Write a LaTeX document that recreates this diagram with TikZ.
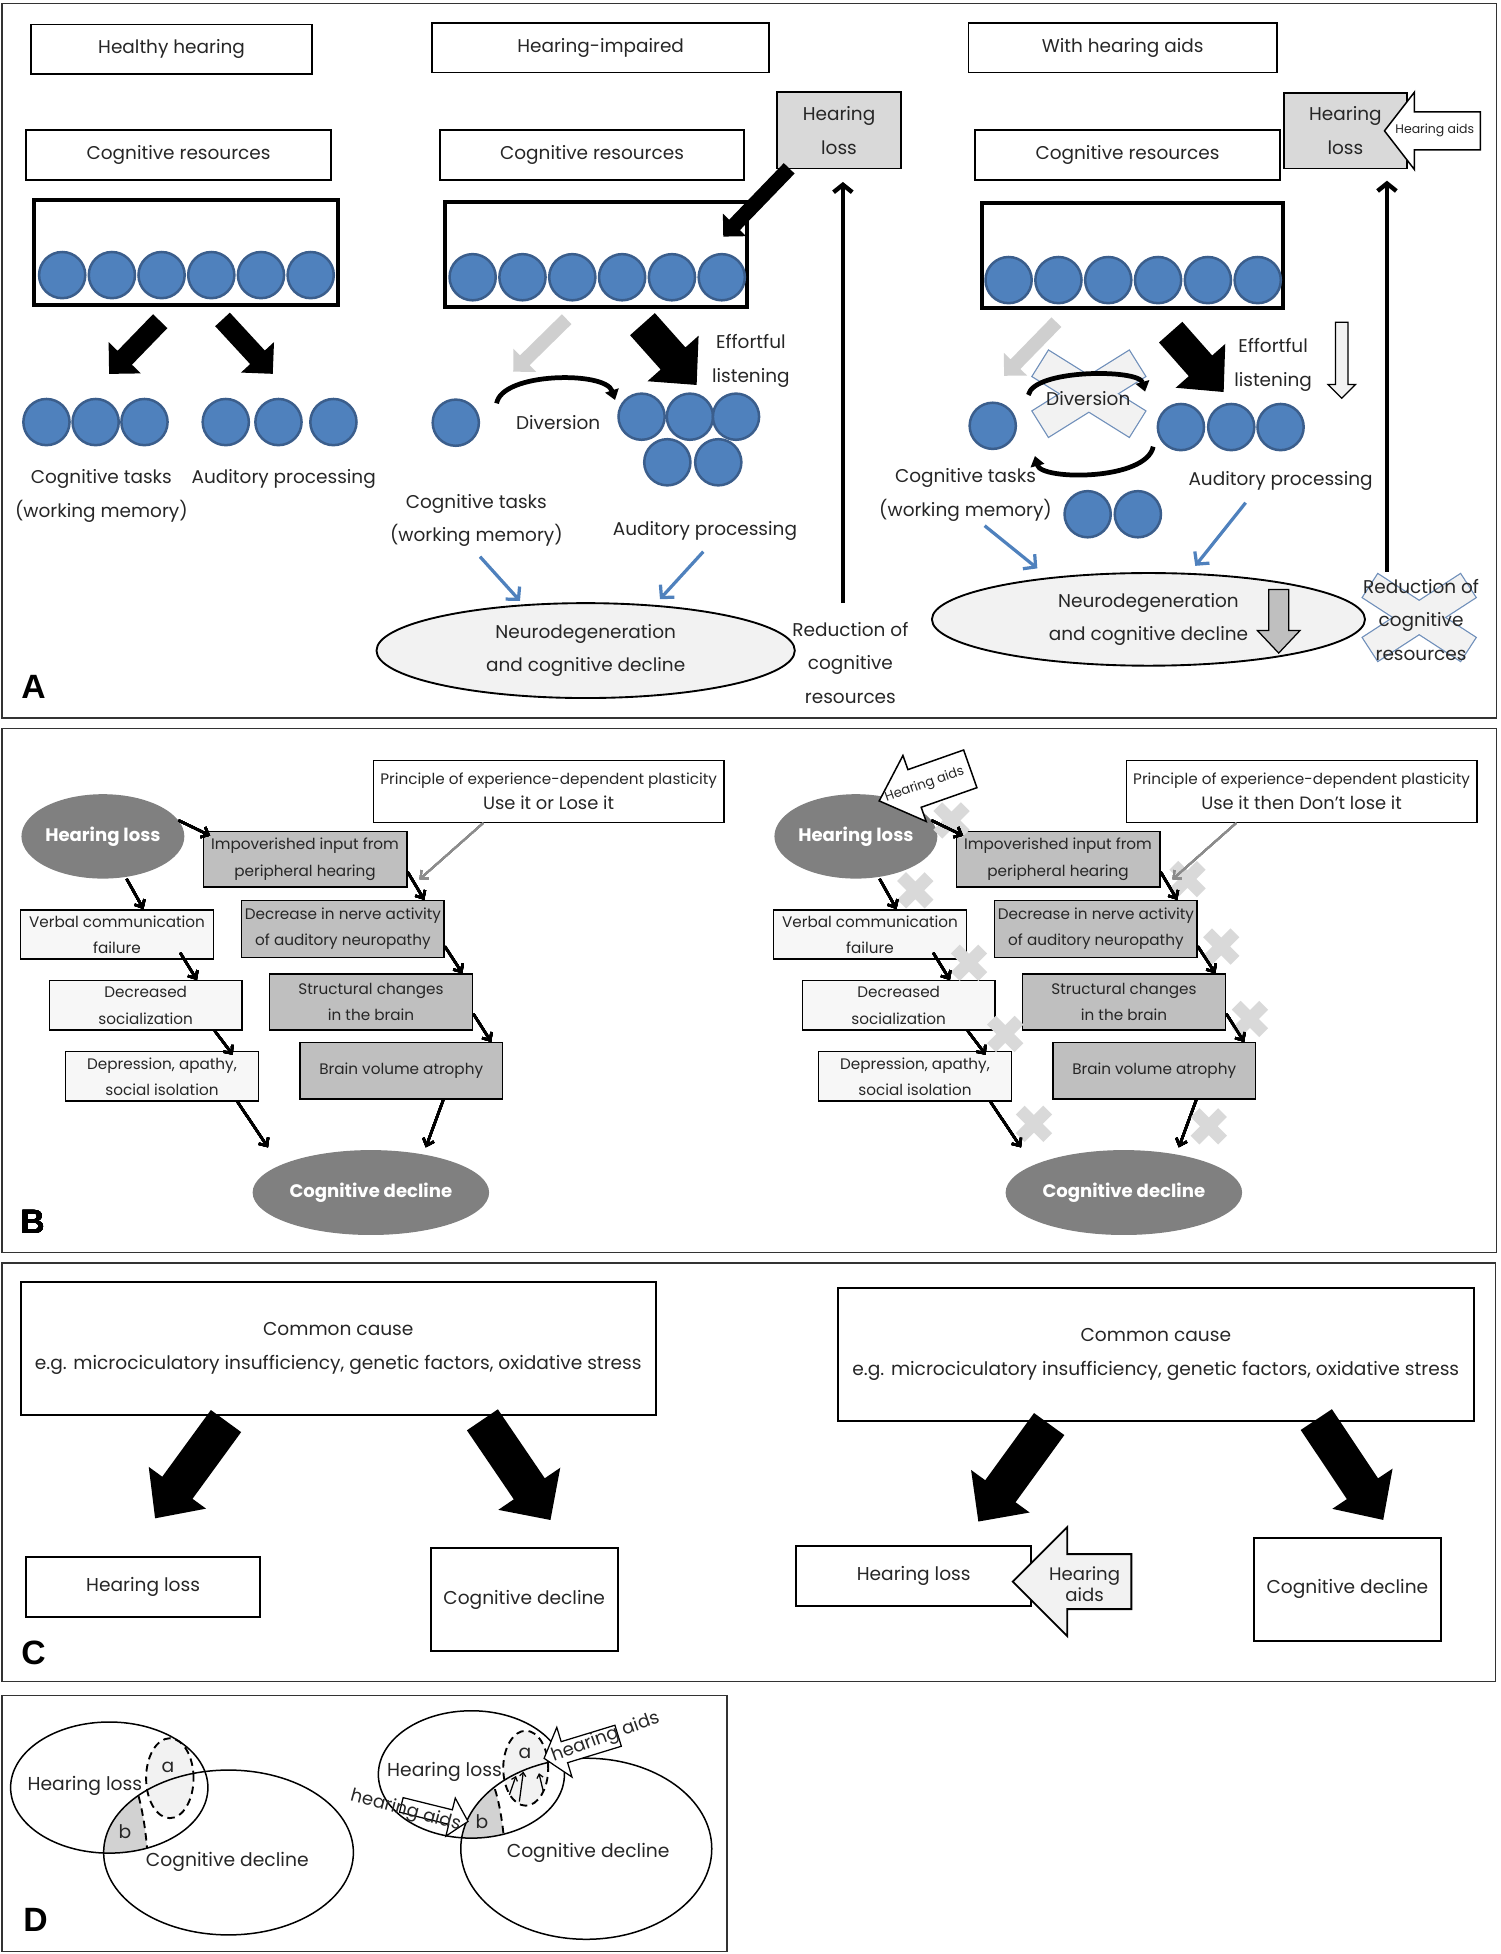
\documentclass[tikz,border=0pt]{standalone}
\usepackage{xcolor}
\usepackage{fontspec}
\setmainfont{Poppins}
\newfontfamily\panelfont{Liberation Sans}
\usepackage{tikz}
\usetikzlibrary{shapes.geometric, arrows.meta}

\definecolor{resblue}{HTML}{4F81BD}
\definecolor{resedge}{HTML}{3B5E8C}
\definecolor{boxgray}{HTML}{D9D9D9}
\definecolor{lightfill}{HTML}{F2F2F2}
\definecolor{lifefill}{HTML}{F7F7F7}
\definecolor{darkfill}{HTML}{808080}
\definecolor{midgray}{HTML}{BFBFBF}
\definecolor{arrgray}{HTML}{CFCFCF}
\definecolor{xedgecol}{HTML}{6F8FBA}
\definecolor{xmarkcol}{HTML}{D9D9D9}
\definecolor{bfill}{HTML}{D2D2D2}

\newcommand{\blockarrow}[7]{%
  \path[#1, shift={#2}, rotate=#3] (0, -#5) -- ({#4-#7}, -#5) -- ({#4-#7}, -#6) -- (#4, 0) -- ({#4-#7}, #6) -- ({#4-#7}, #5) -- (0, #5) -- cycle;}
\newcommand{\crossbars}[4]{%
  \foreach \ang in {#2, -#2} \draw[draw=xedgecol, line width=2pt, shift={#1}, rotate=\ang] (-#3, -#4) rectangle (#3, #4);
  \foreach \ang in {#2, -#2} \fill[lightfill, shift={#1}, rotate=\ang] (-#3, -#4) rectangle (#3, #4);}
\newcommand{\nomark}[1]{\draw[draw=xmarkcol, line width=10pt, shift={#1}] (-11, -11) -- (11, 11) (-11, 11) -- (11, -11);}

\tikzset{
  panel/.style={draw=black!80, line width=1.2pt},
  lbl/.style={inner sep=0pt, align=center, text=black!85, font=\fontsize{14.8}{27}\selectfont},
  tbox/.style={draw, line width=1.3pt, inner sep=0pt, align=center, text=black!85, font=\fontsize{14.8}{27}\selectfont},
  hlbox/.style={tbox, fill=boxgray},
  pot/.style={draw, line width=3pt, inner sep=0pt},
  res/.style={circle, fill=resblue, draw=resedge, line width=2pt, minimum size=37pt, inner sep=0pt},
  neuro/.style={ellipse, draw, fill=lightfill, line width=1.5pt, inner sep=0pt, align=center, text=black!85, font=\fontsize{14.8}{27}\selectfont},
  bluearr/.style={draw=resblue, line width=2.6pt, -{Straight Barb[length=7pt, width=15pt]}},
  uparr/.style={line width=3.5pt, -{Straight Barb[length=6pt, width=15pt]}},
  divarc/.style={line width=3.8pt, -{Triangle[length=8pt, width=11pt]}},
  letter/.style={inner sep=0pt, font=\fontsize{27}{27}\panelfont\bfseries},
  bnode/.style={draw, line width=1.2pt, inner sep=0pt, align=center, text=black!85, font=\fontsize{12.2}{21}\selectfont},
  pathbox/.style={bnode, fill=midgray},
  lifebox/.style={bnode, fill=lifefill},
  darkell/.style={ellipse, fill=darkfill, text=white, inner sep=0pt, font=\fontsize{14.5}{18}\selectfont\bfseries},
  flow/.style={line width=2pt, -{Straight Barb[length=5pt, width=9pt]}},
  cbox/.style={draw, line width=1.6pt, inner sep=0pt, align=center, text=black!85, font=\fontsize{14.9}{27.7}\selectfont},
  venn/.style={line width=1.2pt},
  vdash/.style={line width=1.5pt, dash pattern=on 6pt off 4pt},
  vlbl/.style={inner sep=0pt, text=black!85, font=\fontsize{15}{18}\selectfont},
  tiny/.style={line width=1pt, -{Straight Barb[length=3pt, width=5pt]}}
}

\begin{document}
\begin{tikzpicture}[x=1pt, y=-1pt]
\useasboundingbox (0, 0) rectangle (1202, 1564.8);

% A
\draw[panel] (1.5, 3) rectangle (1198.5, 575);
\node[tbox, minimum width=225pt, minimum height=40pt] at (137.4, 39.5) (hh) {Healthy hearing};
\node[tbox, minimum width=270pt, minimum height=39.6pt] at (481, 38.2) (hi) {Hearing-impaired};
\node[tbox, minimum width=247pt, minimum height=39.6pt] at (899, 38.2) (ha) {With hearing aids};
\node[tbox, minimum width=244pt, minimum height=40pt] at (143, 124) (crL) {Cognitive resources};
\node[tbox, minimum width=243.4pt, minimum height=40pt] at (474.1, 124) (crM) {Cognitive resources};
\node[tbox, minimum width=244pt, minimum height=40pt] at (902.9, 124) (crR) {Cognitive resources};
\node[pot, minimum width=243pt, minimum height=84pt] at (149, 202) (potL) {};
\node[pot, minimum width=242pt, minimum height=84pt] at (477.5, 203.6) (potM) {};
\node[pot, minimum width=241pt, minimum height=84pt] at (906.9, 204.5) (potR) {};
\foreach \i in {0,...,5} {
  \node[res] at ({49.8+39.8*\i}, 220.3) (cl\i) {};
  \node[res] at ({378.5+39.9*\i}, 222) (cm\i) {};
  \node[res] at ({807.7+39.9*\i}, 224.3) (cr\i) {};
}
\node[hlbox, minimum width=99pt, minimum height=61.5pt] at (671.9, 104.3) (hlM) {Hearing\\loss};
\node[hlbox, minimum width=98.7pt, minimum height=60.7pt] at (1077.4, 104.7) (hlR) {Hearing\\loss};

\foreach \x [count=\n] in {37.2, 76.6, 115.7} \node[res] at (\x, 338) (tl\n) {};
\foreach \x [count=\n] in {180.8, 223, 267} \node[res] at (\x, 338) (al\n) {};
\node[lbl] at (81.2, 397) (ctL) {Cognitive tasks\\(working memory)};
\node[lbl] at (227.2, 383.6) (apL) {Auditory processing};
\blockarrow{fill=black}{(128.3, 257.2)}{-134.1}{58.8}{8}{18}{18}
\blockarrow{fill=black}{(178.2, 255.8)}{-47.3}{59.3}{8}{18}{18}

\blockarrow{fill=black}{(632, 134.8)}{-134}{76}{6}{13}{13}
\blockarrow{fill=arrgray}{(453.8, 255.6)}{-135.5}{60}{5.5}{13}{13}
\blockarrow{fill=black}{(514.5, 259.6)}{-48.3}{65.2}{13.3}{27.4}{28.4}
\node[res] at (365, 338.5) (oneM) {};
\foreach \x/\y [count=\n] in {513.8/333.7, 552.5/333.7, 589.4/333.7, 534.4/370.2, 575.2/370.2} \node[res] at (\x, \y) (auM\n) {};
\node[lbl] at (601.3, 289) (efM) {Effortful\\listening};
\node[lbl] at (447, 338.5) (dvM) {Diversion};
\coordinate (dvs) at (397.7, 323);
\coordinate (dve) at (492.5, 320.3);
\draw[divarc] (dvs) .. controls (402, 298) and (485, 297) .. (dve);
\node[lbl] at (381.5, 416.8) (ctM) {Cognitive tasks\\(working memory)};
\node[lbl] at (564.5, 425.2) (apM) {Auditory processing};
\node[neuro, minimum width=335pt, minimum height=76pt] at (469, 521) (neuM) {Neurodegeneration\\and cognitive decline};
\coordinate (bt1) at (384.4, 445.8);
\coordinate (bt2) at (563.2, 441.8);
\draw[bluearr] (bt1) -- ([xshift=-52.6pt, yshift=1pt]neuM.north);
\draw[bluearr] (bt2) -- ([xshift=59.5pt, yshift=2.5pt]neuM.north);
\coordinate (rtM) at (675, 483);
\draw[uparr, shorten >=10pt] (rtM) -- (rtM |- hlM.south);
\node[lbl] at (681, 530.8) (rdM) {Reduction of\\cognitive\\resources};

\blockarrow{fill=arrgray}{(846, 258)}{-134.3}{60}{5.5}{13}{13}
\blockarrow{fill=black}{(937.5, 266)}{-48.5}{64}{12.5}{26.5}{28}
\blockarrow{fill=lightfill, draw, line width=1pt}{(1074.5, 258)}{-90}{61}{5}{11}{11}
\node[lbl] at (1019.5, 292) (efR) {Effortful\\listening};
\node[res] at (795, 341) (oneR) {};
\foreach \x/\y [count=\n] in {945.7/342, 986/342, 1025.5/342, 871/411.8, 911.2/411.8} \node[res] at (\x, \y) (auR\n) {};
\crossbars{(872, 315.3)}{32}{45.5}{12}
\node[lbl] at (871.5, 319) (dvR) {Diversion};
\coordinate (das) at (823.5, 316.3);
\coordinate (dae) at (917, 313.6);
\draw[divarc] (das) .. controls (828, 295.4) and (912, 295.4) .. (dae);
\coordinate (dbs) at (923.5, 357.7);
\coordinate (dbe) at (828.8, 365.2);
\draw[divarc] (dbs) .. controls (918, 384.9) and (834, 384.9) .. (dbe);
\node[lbl] at (773.2, 396.6) (ctR) {Cognitive tasks\\(working memory)};
\node[lbl] at (1025.5, 385) (apR) {Auditory processing};
\node[neuro, minimum width=346.8pt, minimum height=74.2pt] at (919.7, 496) (neuR) {Neurodegeneration\\and cognitive decline};
\blockarrow{fill=midgray, draw, line width=1pt}{(1024, 472)}{-90}{51}{8}{17}{18}
\coordinate (bt3) at (788.5, 421);
\coordinate (bt4) at (997.5, 402.6);
\draw[bluearr] (bt3) -- ([xshift=-89pt, yshift=3pt]neuR.north);
\draw[bluearr] (bt4) -- ([xshift=37.5pt, yshift=5pt]neuR.north);
\coordinate (rtR) at (1110.7, 457.7);
\draw[uparr, shorten >=9pt] (rtR) -- (rtR |- hlR.south);
\crossbars{(1136.5, 494.5)}{33}{46.5}{11}
\node[lbl] at (1138, 496.3) (rdR) {Reduction of\\cognitive\\resources};
\blockarrow{fill=white, draw, line width=1.2pt}{(1185.5, 104.8)}{180}{76.8}{15.3}{31}{24}
\node[inner sep=0pt, text=black!85, font=\fontsize{10}{12}\selectfont] at (1149, 104.8) (haA) {Hearing aids};
\node[letter] at (26.8, 549.9) (labA) {A};

% B
\draw[panel] (1.5, 583.3) rectangle (1198.5, 1003);
\foreach \ox/\s/\motto in {0/L/{Use it or Lose it}, 603/R/{Use it then Don't lose it}} {
  \begin{scope}[xshift=\ox pt]
    \node[darkell, minimum width=130.4pt, minimum height=67.6pt] at (82.4, 669.8) (hl\s) {Hearing loss};
    \node[bnode, line width=1pt, minimum width=280.9pt, minimum height=49.5pt, font=\fontsize{12.2}{20}\selectfont] at (439.3, 633.8) (pr\s) {Principle of experience-dependent plasticity\\{\fontsize{14.3}{20}\selectfont\motto}};
    \node[pathbox, minimum width=162.9pt, minimum height=44.6pt] at (244.3, 688.1) (imp\s) {Impoverished input from\\peripheral hearing};
    \node[pathbox, minimum width=162.1pt, minimum height=45.4pt] at (274.6, 743.9) (dec\s) {Decrease in nerve activity\\of auditory neuropathy};
    \node[pathbox, minimum width=162.8pt, minimum height=44.8pt] at (297.1, 802.4) (str\s) {Structural changes\\in the brain};
    \node[pathbox, minimum width=162.1pt, minimum height=45.1pt] at (321.3, 857.5) (brn\s) {Brain volume atrophy};
    \node[lifebox, minimum width=154.4pt, minimum height=39.5pt] at (93.7, 748.3) (vrb\s) {Verbal communication\\failure};
    \node[lifebox, minimum width=154.4pt, minimum height=39.5pt] at (116.7, 805.1) (dsc\s) {Decreased\\socialization};
    \node[lifebox, minimum width=154.4pt, minimum height=39.5pt] at (129.7, 862) (dep\s) {Depression, apathy,\\social isolation};
    \node[darkell, minimum width=189.4pt, minimum height=68pt] at (297, 955) (cd\s) {Cognitive decline};
  \end{scope}
}
\blockarrow{fill=white, draw, line width=1.2pt}{(777, 615.7)}{199.4}{77.3}{16}{28}{30}
\node[inner sep=0pt, rotate=19.4, text=black!85, font=\fontsize{10.5}{12}\selectfont] at (740.5, 628.5) (haB) {Hearing aids};
\foreach \p in {(762, 657), (733, 713), (951, 704), (978, 758), (776, 771), (1001, 816), (805, 828), (828, 900), (968, 902)} \nomark{\p}
\foreach \s in {L, R} {
  \draw[flow] (hl\s.12) -- ([xshift=6pt, yshift=-4pt]imp\s.north west);
  \draw[flow] ([yshift=-10pt]imp\s.east) -- ([xshift=-16.5pt]dec\s.north east);
  \draw[flow] ([yshift=-14pt]dec\s.east) -- ([xshift=-8.8pt]str\s.north east);
  \draw[flow] ([yshift=-9.5pt]str\s.east) -- ([xshift=-9.6pt]brn\s.north east);
  \draw[flow] ([xshift=19pt]hl\s.south) -- ([xshift=21.2pt]vrb\s.north);
  \draw[flow] ([xshift=-27.2pt, yshift=5.7pt]vrb\s.south east) -- ([xshift=-36.8pt]dsc\s.north east);
  \draw[flow] ([xshift=-22.6pt]dsc\s.south east) -- ([xshift=-21.1pt, yshift=-3pt]dep\s.north east);
  \draw[flow] ([xshift=-17.3pt]dep\s.south east) -- ([xshift=-82.4pt, yshift=2pt]cd\s.north);
  \draw[flow] ([xshift=-47.9pt]brn\s.south east) -- ([xshift=44pt, yshift=2pt]cd\s.north);
  \draw[flow, draw=black!45, line width=1.5pt] ([xshift=-52.3pt]pr\s.south) -- ([xshift=9.6pt, yshift=6.8pt]imp\s.south east);
}
\node[letter] at (26, 978.2) (labB) {B};

% C
\draw[panel] (1.5, 1011.6) rectangle (1197.5, 1346.6);
\node[cbox, minimum width=508.2pt, minimum height=106pt] at (270.9, 1080) (ccL) {Common cause\\e.g. microciculatory insufficiency, genetic factors, oxidative stress};
\node[cbox, minimum width=509.8pt, minimum height=105.9pt] at (925.6, 1084.7) (ccR) {Common cause\\e.g. microciculatory insufficiency, genetic factors, oxidative stress};
\node[cbox, minimum width=187.8pt, minimum height=48.5pt] at (114.6, 1270.8) (hlCL) {Hearing loss};
\node[cbox, minimum width=149.5pt, minimum height=81.9pt] at (419.8, 1280.9) (cdCL) {Cognitive decline};
\node[cbox, minimum width=187.8pt, minimum height=48.3pt] at (731.7, 1261.9) (hlCR) {Hearing loss};
\node[cbox, minimum width=149.5pt, minimum height=82.5pt] at (1079, 1272.6) (cdCR) {Cognitive decline};
\blockarrow{fill=black}{(181, 1138)}{-126.1}{96.4}{15}{28.4}{30.3}
\blockarrow{fill=black}{(386.3, 1137)}{-55.8}{97}{15}{30}{30.2}
\blockarrow{fill=black}{(840.2, 1140.4)}{-126}{96.5}{15}{29}{30}
\blockarrow{fill=black}{(1054.1, 1136.8)}{-56.3}{96.6}{15}{29}{30}
\blockarrow{fill=lightfill, draw, line width=1.5pt}{(906, 1266.6)}{180}{95}{22}{43.7}{43.7}
\node[inner sep=0pt, align=center, text=black!85, font=\fontsize{14.5}{17.5}\selectfont] at (868.5, 1268.6) (haC) {Hearing\\aids};
\node[letter] at (26.8, 1324) (labC) {C};

% D
\draw[panel] (1.5, 1357.6) rectangle (582, 1562.6);
\begin{scope}
  \clip (87.5, 1431.5) ellipse [x radius=79pt, y radius=52.5pt];
  \clip (183, 1483.5) ellipse [x radius=100pt, y radius=66pt];
  \fill[bfill] (0, 1400) -- (100, 1400) .. controls (112, 1440) and (117, 1455) .. (119, 1500) -- (0, 1500) -- cycle;
  \draw[vdash] (100, 1400) .. controls (112, 1440) and (117, 1455) .. (119, 1500);
\end{scope}
\draw[vdash, fill=lightfill] (136, 1424) ellipse [x radius=19pt, y radius=32pt];
\draw[venn] (87.5, 1431.5) ellipse [x radius=79pt, y radius=52.5pt];
\draw[venn] (183, 1483.5) ellipse [x radius=100pt, y radius=66pt];
\node[vlbl] at (68, 1430) (hlDL) {Hearing loss};
\node[vlbl] at (134.5, 1415) (aDL) {a};
\node[vlbl] at (100, 1467) (bDL) {b};
\node[vlbl] at (182, 1491) (cdDL) {Cognitive decline};

\begin{scope}
  \clip (377.5, 1421) ellipse [x radius=74.5pt, y radius=51pt];
  \clip (469.5, 1480.5) ellipse [x radius=100.5pt, y radius=72.5pt];
  \fill[bfill] (300, 1380) -- (385, 1405) .. controls (397, 1430) and (402, 1445) .. (405, 1490) -- (300, 1490) -- cycle;
  \draw[vdash] (385, 1405) .. controls (397, 1430) and (402, 1445) .. (405, 1490);
\end{scope}
\draw[vdash, fill=lightfill] (421, 1416) ellipse [x radius=18pt, y radius=30pt];
\draw[venn] (377.5, 1421) ellipse [x radius=74.5pt, y radius=51pt];
\draw[venn] (469.5, 1480.5) ellipse [x radius=100.5pt, y radius=72.5pt];
\coordinate (sa1) at (407.9, 1437.4);
\coordinate (sa2) at (415.9, 1442.7);
\coordinate (sa3) at (435.1, 1434.7);
\coordinate (se1) at (413.2, 1422.2);
\coordinate (se2) at (419.1, 1418.7);
\coordinate (se3) at (431.6, 1420);
\draw[tiny] (sa1) -- (se1);
\draw[tiny] (sa2) -- (se2);
\draw[tiny] (sa3) -- (se3);
\blockarrow{fill=white, draw, line width=1pt}{(495, 1390)}{197}{62}{8.8}{20.8}{17}
\blockarrow{fill=white, draw, line width=1pt}{(321.4, 1445.4)}{-13.9}{55}{6}{15.7}{14.4}
\node[vlbl] at (356, 1418.6) (hlDR) {Hearing loss};
\node[vlbl] at (420.4, 1404) (aDR) {a};
\node[vlbl] at (386, 1459) (bDR) {b};
\node[vlbl] at (471, 1484) (cdDR) {Cognitive decline};
\node[vlbl, rotate=20, font=\fontsize{14.5}{17}\selectfont] at (485, 1391.5) (haD1) {hearing aids};
\node[vlbl, rotate=-15, font=\fontsize{14.5}{17}\selectfont] at (324.8, 1450.5) (haD2) {hearing aids};
\node[letter] at (28.4, 1537.5) (labD) {D};
\end{tikzpicture}
\end{document}
